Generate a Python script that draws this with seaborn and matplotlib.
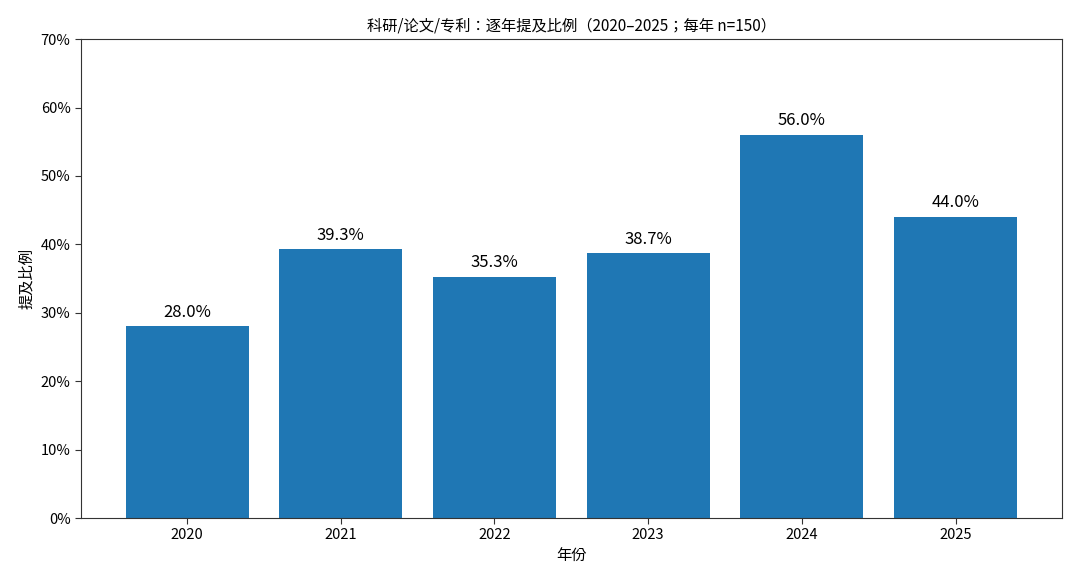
import matplotlib
matplotlib.use("Agg")
import matplotlib.pyplot as plt
import seaborn as sns
import pandas as pd
from matplotlib.ticker import PercentFormatter

years = ["2020", "2021", "2022", "2023", "2024", "2025"]
ratios = [28.0, 39.3, 35.3, 38.7, 56.0, 44.0]

sns.set_style("ticks")
plt.rcParams['font.family'] = ['Noto Sans CJK JP', 'DejaVu Sans']
plt.rcParams['axes.unicode_minus'] = False
plt.rcParams['text.color'] = 'black'
plt.rcParams['axes.labelcolor'] = 'black'
plt.rcParams['xtick.color'] = 'black'
plt.rcParams['ytick.color'] = 'black'

df = pd.DataFrame({"year": years, "ratio": ratios})

fig = plt.figure(figsize=(10.8, 5.84), dpi=100)
ax = fig.add_axes([0.075, 0.113, 0.908, 0.82])
sns.barplot(data=df, x="year", y="ratio", color="#1f77b4", saturation=1, width=0.8,
            linewidth=0, ax=ax)
ax.set_xlim(-0.69, 5.69)
ax.set_ylim(0, 70)
ax.set_yticks(range(0, 71, 10))
ax.yaxis.set_major_formatter(PercentFormatter(decimals=0))
for c in ax.containers:
    ax.bar_label(c, labels=[f"{v:.1f}%" for v in ratios], padding=4, fontsize=12, color="black")
ax.set_title("科研/论文/专利：逐年提及比例（2020–2025；每年 n=150）", fontsize=11, color="black")
ax.set_xlabel("年份", fontsize=11)
ax.set_ylabel("提及比例", fontsize=11)
ax.tick_params(labelsize=10.5, length=4, color="#333333")
for s in ax.spines.values():
    s.set_visible(True)
    s.set_color("#333333")
fig.savefig("out.png", dpi=100)
